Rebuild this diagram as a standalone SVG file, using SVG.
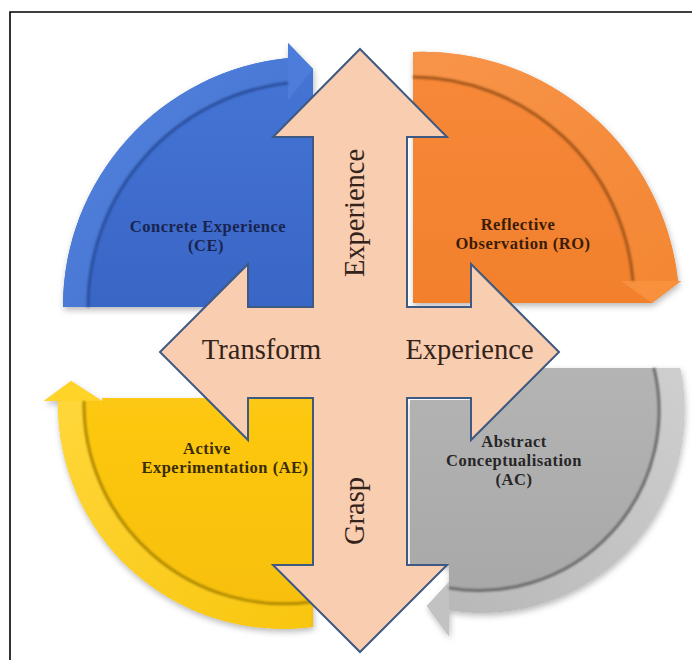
<svg xmlns="http://www.w3.org/2000/svg" width="692" height="660" viewBox="0 0 692 660">
  <defs>
    <filter id="sh" x="-15%" y="-15%" width="130%" height="130%">
      <feDropShadow dx="1" dy="3" stdDeviation="3" flood-color="#000" flood-opacity="0.28"/>
    </filter>
    <filter id="soft" x="-10%" y="-10%" width="120%" height="120%">
      <feGaussianBlur stdDeviation="1.2"/>
    </filter>
    <linearGradient id="gBlue" x1="0" y1="0" x2="0" y2="1">
      <stop offset="0" stop-color="#4676d6"/>
      <stop offset="1" stop-color="#3966c6"/>
    </linearGradient>
    <linearGradient id="gBlueBand" x1="0" y1="0" x2="1" y2="1">
      <stop offset="0" stop-color="#5585de"/>
      <stop offset="1" stop-color="#3f6ecd"/>
    </linearGradient>
    <linearGradient id="gOrange" x1="0" y1="0" x2="0" y2="1">
      <stop offset="0" stop-color="#f7893a"/>
      <stop offset="1" stop-color="#f2802c"/>
    </linearGradient>
    <linearGradient id="gOrangeBand" x1="0" y1="0" x2="1" y2="1">
      <stop offset="0" stop-color="#f8944a"/>
      <stop offset="1" stop-color="#f38733"/>
    </linearGradient>
    <linearGradient id="gYellow" x1="0" y1="0" x2="0" y2="1">
      <stop offset="0" stop-color="#fdc913"/>
      <stop offset="1" stop-color="#f7bf06"/>
    </linearGradient>
    <linearGradient id="gYellowBand" x1="0" y1="0" x2="1" y2="1">
      <stop offset="0" stop-color="#ffd73a"/>
      <stop offset="1" stop-color="#f9c60e"/>
    </linearGradient>
    <linearGradient id="gGray" x1="0" y1="0" x2="0" y2="1">
      <stop offset="0" stop-color="#b4b4b4"/>
      <stop offset="1" stop-color="#a6a6a6"/>
    </linearGradient>
    <linearGradient id="gGrayBand" x1="1" y1="0" x2="0" y2="1">
      <stop offset="0" stop-color="#cfcfcf"/>
      <stop offset="1" stop-color="#b8b8b8"/>
    </linearGradient>
  </defs>
  <style>
    .q { filter: url(#sh); }
    .edge { fill: none; stroke-width: 3; filter: url(#soft); }
    .lbl { font-family: "Liberation Serif", "Times New Roman", serif; font-weight: bold; font-size: 16.5px; letter-spacing: 0.5px; text-anchor: middle; }
    .big { font-family: "Liberation Serif", "Times New Roman", serif; font-size: 28.5px; text-anchor: middle; fill: #33231a; }
    .cross { fill: #f9cdb0; stroke: #3e5a82; stroke-width: 2; stroke-linejoin: miter; }
  </style>

  <rect width="692" height="660" fill="#ffffff"/>
  <!-- frame -->
  <path d="M10,662 V12 H694" fill="none" stroke="#000" stroke-width="1.6"/>

  <!-- Concrete Experience -->
  <g id="ce">
    <g class="q">
      <path d="M63,307 A250,250 0 0 1 288,58 L288,43 L313,69 L313,307 Z" fill="url(#gBlue)"/>
    </g>
    <path d="M63,307 A250,250 0 0 1 288,58 L288,83 A225,225 0 0 0 88,307 Z" fill="url(#gBlueBand)"/>
    <path d="M288,43 L313,69 L288,100 Z" fill="#4c7dda"/>
    <path class="edge" d="M88,307 A225,225 0 0 1 288,83" stroke="#2a4f9e"/>
    <text class="lbl" fill="#18244f" x="208" y="232">Concrete Experience</text>
    <text class="lbl" fill="#18244f" x="206" y="251">(CE)</text>
  </g>

  <!-- Reflective Observation -->
  <g id="ro">
    <g class="q">
      <path d="M413,52 A257,257 0 0 1 678,281 L681,281 L652,303 L413,303 Z" fill="url(#gOrange)"/>
    </g>
    <path d="M413,52 A257,257 0 0 1 678,281 L633,281 A222,222 0 0 0 413,77 Z" fill="url(#gOrangeBand)"/>
    <path d="M621,281 L681,281 L652,303 Z" fill="#f7913e"/>
    <path class="edge" d="M413,77 A222,222 0 0 1 633,281" stroke="#a4561c"/>
    <text class="lbl" fill="#3a1c06" x="518" y="230">Reflective</text>
    <text class="lbl" fill="#3a1c06" x="523" y="249">Observation (RO)</text>
  </g>

  <!-- Active Experimentation -->
  <g id="ae">
    <g class="q">
      <path d="M313,398 L102,398 L102,401 L71,381 L44,401 L58,401 A225,225 0 0 0 311,627 L313,627 Z" fill="url(#gYellow)"/>
    </g>
    <path d="M58,401 A225,225 0 0 0 311,627 L311,602 A200,200 0 0 1 84,401 Z" fill="url(#gYellowBand)"/>
    <path d="M44,401 L71,381 L102,401 Z" fill="#ffd328"/>
    <path class="edge" d="M84,401 A200,200 0 0 0 311,602" stroke="#b08a00"/>
    <text class="lbl" fill="#3a2c04" x="207" y="454">Active</text>
    <text class="lbl" fill="#3a2c04" x="225" y="473">Experimentation (AE)</text>
  </g>

  <!-- Abstract Conceptualisation -->
  <g id="ac">
    <g class="q">
      <path d="M410,400 L471,400 L471,368 L680,368 A203,203 0 0 1 449,610 L449,636 L427,606 L449,582 L449,565 L410,565 Z" fill="url(#gGray)"/>
    </g>
    <path d="M680,368 A203,203 0 0 1 449,610 L449,588 A180,180 0 0 0 654,368 Z" fill="url(#gGrayBand)"/>
    <path d="M449,636 L427,606 L449,582 Z" fill="#c2c2c2"/>
    <path class="edge" d="M654,368 A180,180 0 0 1 449,588" stroke="#6c6c6c"/>
    <text class="lbl" fill="#262626" x="514" y="447">Abstract</text>
    <text class="lbl" fill="#262626" x="514" y="466">Conceptualisation</text>
    <text class="lbl" fill="#262626" x="514" y="485">(AC)</text>
  </g>

  <!-- the two double-headed arrows forming the central cross -->
  <g id="connectors">
    <path class="cross" d="M360,49 L447,137 L407,137 L407,307 L471,307 L471,264 L559,352 L471,440 L471,398 L407,398 L407,565 L447,565 L360,652 L273,565 L313,565 L313,398 L248,398 L248,440 L160,352 L248,264 L248,307 L313,307 L313,137 L273,137 Z"/>
    <text class="big" transform="translate(364,213) rotate(-90)">Experience</text>
    <text class="big" transform="translate(364,511) rotate(-90)">Grasp</text>
    <text class="big" x="261.5" y="359">Transform</text>
    <text class="big" x="469.5" y="359">Experience</text>
  </g>
</svg>
